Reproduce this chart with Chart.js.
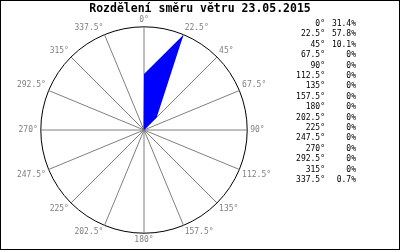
<!DOCTYPE html>
<html>
<head>
<meta charset="utf-8">
<script src="https://cdn.jsdelivr.net/npm/chart.js@4"></script>
<style>
  html, body { margin: 0; padding: 0; background: #fff; }
  canvas { display: block; }
</style>
</head>
<body>
<canvas id="chart-wind" width="400" height="250"></canvas>
<script>
// Wind direction distribution 23.05.2015
const TITLE = 'Rozdělení směru větru 23.05.2015';
const directions = ['0°', '22.5°', '45°', '67.5°', '90°', '112.5°', '135°', '157.5°',
                    '180°', '202.5°', '225°', '247.5°', '270°', '292.5°', '315°', '337.5°'];
const shares = [31.4, 57.8, 10.1, 0, 0, 0, 0, 0, 0, 0, 0, 0, 0, 0, 0, 0.7];

const MONO = '"DejaVu Sans Mono", "Liberation Mono", monospace';

/**
 * Title across the whole picture, direction / percentage list on the right, outer frame
 */
const framePlugin = {
    id: 'frame',
    afterDraw(chart) {
        const ctx = chart.ctx;
        ctx.save();
        ctx.fillStyle = '#000';
        ctx.textBaseline = 'middle';

        ctx.font = `bold 11.5px ${MONO}`;
        ctx.textAlign = 'center';
        ctx.fillText(TITLE, chart.width / 2, 9);

        ctx.font = `8px ${MONO}`;
        ctx.textAlign = 'right';
        directions.forEach((dir, i) => {
            const y = 24 + i * 10.4;
            ctx.fillText(dir, 325, y);
            ctx.fillText(`${shares[i]}%`, 356, y);
        });

        ctx.strokeStyle = '#000';
        ctx.lineWidth = 1;
        ctx.strokeRect(0.5, 0.5, chart.width - 1, chart.height - 1);
        ctx.restore();
    }
};

const whiteBg = {
    id: 'whiteBg',
    beforeDraw(chart) {
        const ctx = chart.ctx;
        ctx.save();
        ctx.fillStyle = '#fff';
        ctx.fillRect(0, 0, chart.width, chart.height);
        ctx.restore();
    }
};

const maxShare = Math.max(...shares);

new Chart(document.getElementById('chart-wind'), {
    type: 'radar',
    data: {
        labels: directions,
        datasets: [{
            data: shares,
            backgroundColor: '#0000ff',
            borderColor: '#0000ff',
            borderWidth: 0,
            pointRadius: 0,
            fill: true,
            tension: 0,
        }]
    },
    options: {
        responsive: false,
        animation: false,
        devicePixelRatio: 1,
        layout: {
            padding: { left: 5, right: 116, top: 15.8, bottom: 5.2 }
        },
        plugins: {
            legend: { display: false },
            tooltip: { enabled: false },
            title: { display: false }
        },
        scales: {
            r: {
                min: 0,
                max: maxShare,
                ticks: { display: false, stepSize: maxShare },
                grid: { circular: true, color: '#000', lineWidth: 1 },
                angleLines: { color: '#808080', lineWidth: 1 },
                pointLabels: {
                    color: '#808080',
                    padding: 3,
                    font: { family: MONO, size: 8, lineHeight: 1 }
                }
            }
        }
    },
    plugins: [whiteBg, framePlugin]
});
</script>
</body>
</html>
